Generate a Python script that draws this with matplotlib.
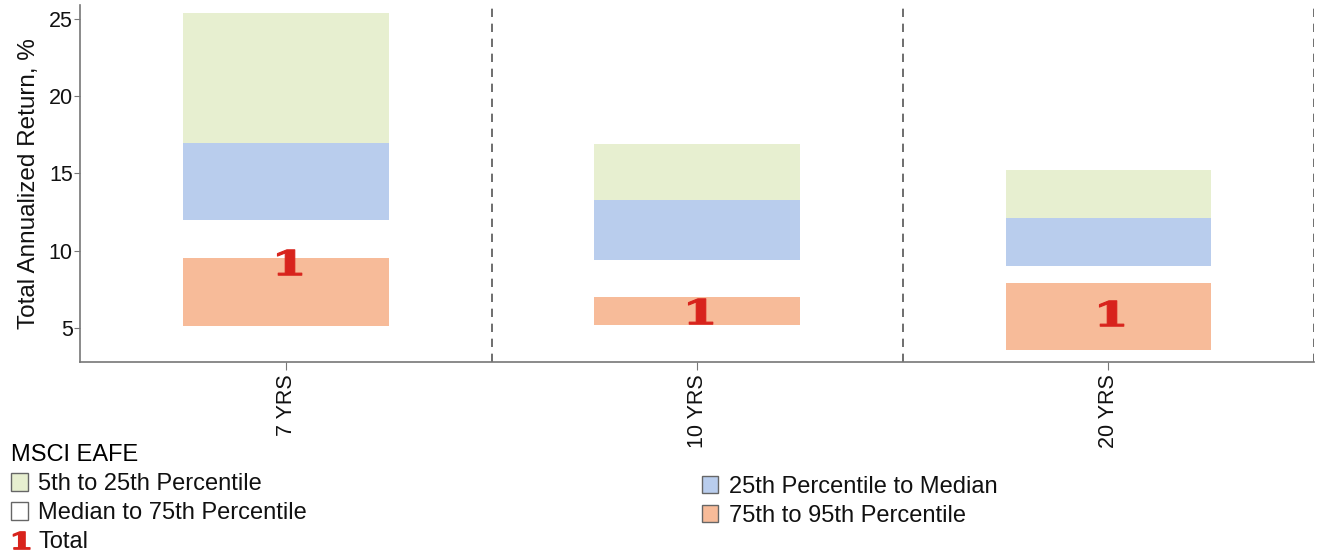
import matplotlib
matplotlib.use('Agg')
import matplotlib.pyplot as plt
from matplotlib.patches import Patch
from matplotlib.lines import Line2D
from matplotlib.path import Path
from matplotlib.textpath import TextPath
from matplotlib.font_manager import FontProperties

plt.rcParams['font.family'] = ['Liberation Sans', 'DejaVu Sans']

# annualized return percentiles for MSCI EAFE peer universe
periods = ['7 YRS', '10 YRS', '20 YRS']
p5 = [25.4, 16.9, 15.2]
p25 = [17.0, 13.3, 12.1]
p50 = [12.0, 9.4, 9.0]
p75 = [9.5, 7.0, 7.9]
p95 = [5.1, 5.2, 3.6]
total = [9.3, 6.1, 6.0]

GREEN = '#e7efd0'
BLUE = '#b9cded'
ORANGE = '#f7bb99'
RED = '#d8231c'


def one_marker(stretch=1.5):
    # wide heavy "1" glyph used as the Total marker
    tp = TextPath((0, 0), '1', prop=FontProperties(family='DejaVu Serif', weight='bold'))
    v = tp.vertices.copy()
    v[:, 0] -= (v[:, 0].min() + v[:, 0].max()) / 2
    v[:, 1] -= (v[:, 1].min() + v[:, 1].max()) / 2
    v[:, 0] *= stretch
    return Path(v, tp.codes)


ONE = one_marker()

fig = plt.figure(figsize=(13.18, 5.56), dpi=100)
ax = fig.add_axes([0.061, 0.349, 0.936, 0.642])

x = list(range(len(periods)))
w = 0.5
ax.bar(x, [a - b for a, b in zip(p5, p25)], bottom=p25, width=w, color=GREEN, zorder=2)
ax.bar(x, [a - b for a, b in zip(p25, p50)], bottom=p50, width=w, color=BLUE, zorder=2)
ax.bar(x, [a - b for a, b in zip(p50, p75)], bottom=p75, width=w, color='white', zorder=2)
ax.bar(x, [a - b for a, b in zip(p75, p95)], bottom=p95, width=w, color=ORANGE, zorder=2)
ax.plot(x, total, ls='none', marker=ONE, ms=22, color=RED, mec=RED, mew=0.8, zorder=3)

# dashed separators between periods
for xv in [0.5, 1.5, 2.5]:
    ax.axvline(xv, color='#555555', lw=1.2, ls=(0, (5, 4)), zorder=1)

ax.set_xlim(-0.5, 2.5)
ax.set_ylim(2.8, 25.9)
ax.set_yticks([5, 10, 15, 20, 25])
ax.set_xticks(x)
ax.set_xticklabels(periods, rotation=90, fontsize=15.5)
ax.tick_params(axis='y', labelsize=15.5, length=4.5, color='#777777', pad=1, labelcolor='#111111')
ax.tick_params(axis='x', length=5.5, color='#777777', pad=3, labelcolor='#111111')
ax.set_ylabel('Total Annualized Return, %', fontsize=17.5, labelpad=6, color='#111111')

for s in ['top', 'right']:
    ax.spines[s].set_visible(False)
for s in ['left', 'bottom']:
    ax.spines[s].set_color('#777777')
    ax.spines[s].set_linewidth(1.2)

edge = '#666666'
left_handles = [
    Patch(facecolor=GREEN, edgecolor=edge, label='5th to 25th Percentile'),
    Patch(facecolor='white', edgecolor=edge, label='Median to 75th Percentile'),
    Line2D([], [], ls='none', marker=ONE, ms=15, color=RED, label='Total'),
]
right_handles = [
    Patch(facecolor=BLUE, edgecolor=edge, label='25th Percentile to Median'),
    Patch(facecolor=ORANGE, edgecolor=edge, label='75th to 95th Percentile'),
]
leg_kw = dict(frameon=False, fontsize=17, handlelength=0.7, handleheight=0.75,
              handletextpad=0.45, labelspacing=0.3, borderaxespad=0, borderpad=0.3,
              labelcolor='#111111')
fig.legend(handles=left_handles, title='MSCI EAFE', loc='upper left',
           bbox_to_anchor=(0.003, 0.214), title_fontsize=17, alignment='left', **leg_kw)
fig.legend(handles=right_handles, loc='upper left', bbox_to_anchor=(0.527, 0.157), **leg_kw)

fig.savefig('out.png', dpi=100)
